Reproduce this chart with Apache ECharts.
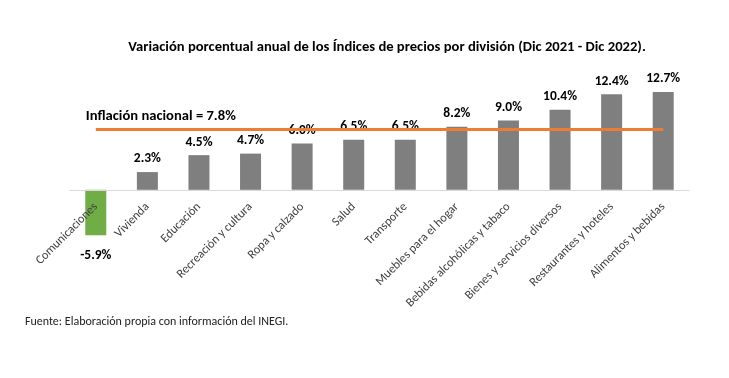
<!DOCTYPE html>
<html><head><meta charset="utf-8">
<script src="https://cdn.jsdelivr.net/npm/echarts@6/dist/echarts.min.js"></script>
<style>html,body{margin:0;padding:0;background:#fff}#c{width:729px;height:378px}</style>
</head><body><div id="c"></div>
<script>
const categories = ["Comunicaciones","Vivienda","Educación","Recreación y cultura","Ropa y calzado","Salud","Transporte","Muebles para el hogar","Bebidas alcohólicas y tabaco","Bienes y servicios diversos","Restaurantes y hoteles","Alimentos y bebidas"];
const values = [-5.9, 2.3, 4.5, 4.7, 6.0, 6.5, 6.5, 8.2, 9.0, 10.4, 12.4, 12.7];
const inflation = 7.8;
const titleText = "Variación porcentual anual de los Índices de precios por división (Dic 2021 - Dic 2022).";
const sourceText = "Fuente: Elaboración propia con información del INEGI.";
const FONT = "Carlito, 'Liberation Sans', sans-serif";

const chart = echarts.init(document.getElementById('c'), null, {renderer:'canvas'});
chart.setOption({
  animation:false,
  backgroundColor:'#fff',
  title:[{text:titleText,left:387,top:40,padding:0,textAlign:'center',
    textStyle:{fontFamily:FONT,fontSize:14.6,fontWeight:'bold',color:'#000'}},
    {text:sourceText,left:25,top:316,padding:0,textStyle:{fontFamily:FONT,fontSize:12,fontWeight:'normal',color:'#222'}}],
  grid:{left:70,width:619,top:82,height:154},
  xAxis:{type:'category',data:categories,z:5,
    axisLine:{onZero:true,lineStyle:{color:'#d9d9d9',width:1}},
    axisTick:{show:false},
    axisLabel:{rotate:45,interval:0,fontFamily:FONT,fontSize:12.3,color:'#404040',margin:-31}},
  yAxis:{type:'value',min:-6,max:14,show:false,splitLine:{show:false}},
  series:[{type:'bar',barWidth:21,
    data:values.map(v=>({value:v,itemStyle:{color:v<0?'#70ad47':'#7f7f7f'},
      label:{position:v<0?'bottom':'top',distance:v<0?13:6}})),
    label:{show:true,distance:6,formatter:p=>p.value.toFixed(1)+'%',
      fontFamily:FONT,fontSize:13.5,fontWeight:'bold',color:'#000'},
    markLine:{silent:true,symbol:'none',
      lineStyle:{color:'#ed7d31',width:3,type:'solid'},
      label:{show:true,position:'insideStartTop',distance:[-10,6],
        formatter:'Inflación nacional = '+inflation.toFixed(1)+'%',
        fontFamily:FONT,fontSize:14.6,fontWeight:'bold',color:'#000'},
      data:[[{coord:[0,inflation]},{coord:[categories.length-1,inflation]}]]}
  }]
});
</script></body></html>
